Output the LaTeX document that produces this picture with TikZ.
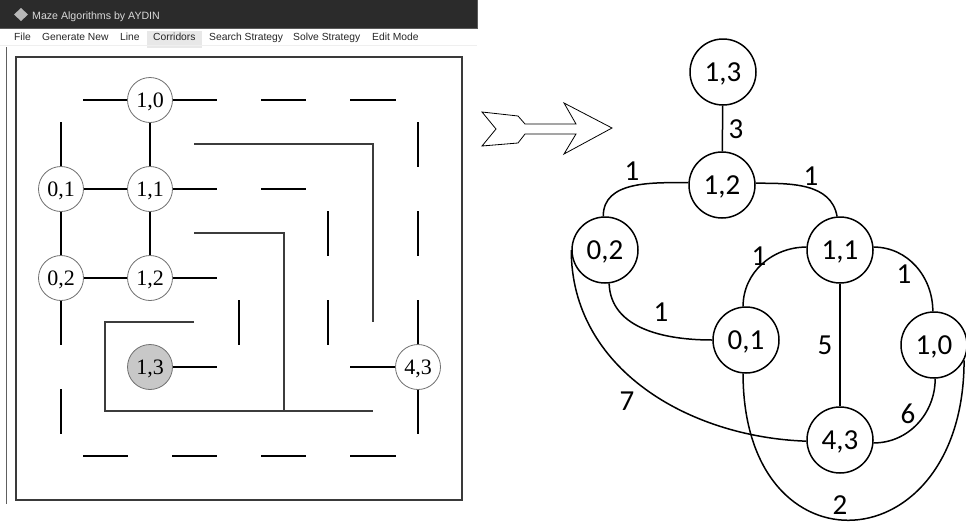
\documentclass[tikz,border=0pt]{standalone}
\usepackage{fontspec}
\setmainfont{Carlito}
\newfontfamily\uifont{Liberation Sans}
\newfontfamily\serifont{Liberation Serif}
\newfontfamily\graphfont{Carlito}
\definecolor{titlebar}{HTML}{2B2B2B}
\definecolor{titleedge}{HTML}{5A5A5A}
\definecolor{titletext}{HTML}{DADADA}
\definecolor{menuhl}{HTML}{E8E8E8}
\definecolor{menusep}{HTML}{EFEFEF}
\definecolor{corr}{HTML}{3C3C3C}
\definecolor{mborder}{HTML}{707070}
\definecolor{framec}{HTML}{3A3A3A}
\definecolor{winedge}{HTML}{606060}
\definecolor{startfill}{HTML}{C8C8C8}
\begin{document}
\begin{tikzpicture}[x=1pt,y=1pt,
  wall/.style={line width=2.2pt, black, shorten >=22pt, shorten <=22pt},
  corridor/.style={line width=1.1pt, draw=corr},
  mnode/.style={circle, draw=mborder, line width=0.8pt, fill=white, minimum size=45pt, inner sep=0pt, font=\serifont\fontsize{22}{22}\selectfont, text depth=0pt},
  gnode/.style={circle, draw=black, line width=1.5pt, fill=white, minimum size=66pt, inner sep=0pt, font=\graphfont\fontsize{29}{29}\selectfont, text depth=0pt},
  gedge/.style={line width=1.5pt, black},
  glabel/.style={font=\graphfont\fontsize{29}{29}\selectfont, inner sep=0pt, text depth=0pt},
  menu/.style={anchor=base west, inner sep=0pt, font=\uifont\fontsize{10.3}{12}\selectfont, text=black!85}
]
\useasboundingbox (0,0) rectangle (966,-525);
% ---------- window chrome ----------
\fill[titlebar] (0,0) rectangle (477,-28);
\draw[titleedge, line width=0.8pt] (477,0) -- (477,-28) -- (0,-28);
\fill[gray!55] (14,-14.5) -- (21,-8) -- (28,-14.5) -- (21,-21) -- cycle;
\node[anchor=base west, inner sep=0pt, font=\uifont\fontsize{10.6}{12}\selectfont, text=titletext] (title) at (32,-19) {Maze Algorithms by AYDIN};
\fill[menuhl] (147,-31) rectangle (202,-48);
\draw[menusep, line width=1pt] (0,-45.5) -- (477,-45.5);
\node[menu] (mfile) at (14,-40) {File};
\node[menu] (mgen) at (42,-40) {Generate New};
\node[menu] (mline) at (120,-40) {Line};
\node[menu] (mcorr) at (153,-40) {Corridors};
\node[menu] (msearch) at (209,-40) {Search Strategy};
\node[menu] (msolve) at (293,-40) {Solve Strategy};
\node[menu] (medit) at (372,-40) {Edit Mode};
\draw[winedge, line width=1pt] (6,-47) -- (6,-504);
\draw[framec, line width=1.3pt] (16,-57) rectangle (462,-500);
% ---------- maze grid ----------
\foreach \i/\x in {0/61,1/150,2/239,3/328,4/418}
  \foreach \j/\y in {0/100,1/189,2/278,3/367,4/456}
    \coordinate (p\i\j) at (\x,-\y);
\foreach \a/\b in {p00/p10,p10/p20,p20/p30,p30/p40,
                   p01/p11,p11/p21,p21/p31,
                   p02/p12,p12/p22,
                   p13/p23,p33/p43,
                   p04/p14,p14/p24,p24/p34,p34/p44,
                   p00/p01,p01/p02,p02/p03,p03/p04,
                   p10/p11,p11/p12,
                   p22/p23,
                   p31/p32,p32/p33,
                   p40/p41,p41/p42,p42/p43,p43/p44}
  \draw[wall] (\a) -- (\b);
\draw[corridor] (194,-144) -| (373,-322);
\draw[corridor] (194,-233) -| (284,-411);
\draw[corridor] (194,-322) -- (105,-322) -- (105,-411) -- (373,-411);
\node[mnode] (m10) at (p10) {1,0};
\node[mnode] (m01) at (p01) {0,1};
\node[mnode] (m11) at (p11) {1,1};
\node[mnode] (m02) at (p02) {0,2};
\node[mnode] (m12) at (p12) {1,2};
\node[mnode, fill=startfill] (m13) at (p13) {1,3};
\node[mnode] (m43) at (p43) {4,3};
% ---------- big arrow ----------
\draw[line width=0.8pt] (482,-112) -- (518,-116) -- (525,-124) -- (576,-124) -- (564,-103) -- (612,-128) -- (564,-154) -- (576,-134) -- (525,-134) -- (518,-143) -- (482,-146) -- (496,-129) -- cycle;
% ---------- graph ----------
\node[gnode] (g13) at (723,-72) {1,3};
\node[gnode] (g12) at (722,-185) {1,2};
\node[gnode] (g02) at (605,-250) {0,2};
\node[gnode] (g11) at (840,-250) {1,1};
\node[gnode] (g01) at (746,-340) {0,1};
\node[gnode] (g10) at (934,-345) {1,0};
\node[gnode] (g43) at (840,-440) {4,3};
\draw[gedge] (g13) -- (g12);
\draw[gedge] (g12.176) to[out=180,in=90] (g02.93);
\draw[gedge] (g12.3) to[out=0,in=100] (g11.95);
\draw[gedge] (g02.-83) to[out=-88,in=180] (g01.180);
\draw[gedge] (g11.175) to[out=180,in=90] (g01.95);
\draw[gedge] (g11.5) to[out=0,in=90] (g10.92);
\draw[gedge] (g11) -- (g43);
\draw[gedge] (g10.-88) to[out=-90,in=0] (g43.-5);
\draw[gedge] (g02.180) to[out=-90,in=178] (g43.182);
\draw[gedge] (g01.-95) to[out=-90,in=-90,looseness=2.36] (g10.-27);
\node[glabel] (w3) at (736,-129) {3};
\node[glabel] (wa) at (632,-171) {1};
\node[glabel] (wb) at (811,-176) {1};
\node[glabel] (wc) at (759,-256) {1};
\node[glabel] (wd) at (904,-274) {1};
\node[glabel] (we) at (661,-312) {1};
\node[glabel] (w5) at (825,-345) {5};
\node[glabel] (w6) at (908,-414) {6};
\node[glabel] (w7) at (627,-401) {7};
\node[glabel] (w2) at (840,-505) {2};
\end{tikzpicture}
\end{document}
